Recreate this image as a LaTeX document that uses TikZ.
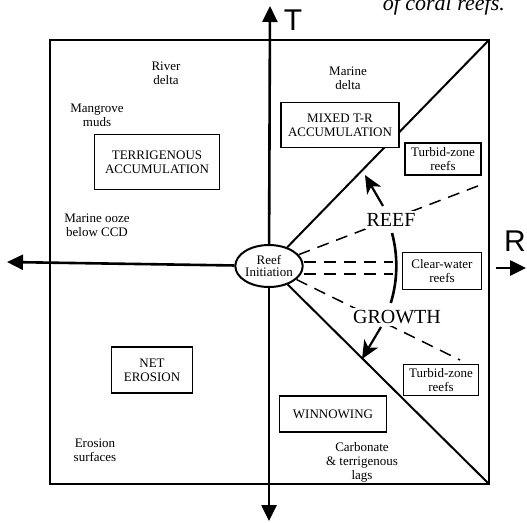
\documentclass[tikz,border=0pt]{standalone}
\usepackage{fontspec}
\setmainfont{Liberation Serif}
\newfontfamily\axisfont{Liberation Sans}
\usetikzlibrary{shapes.geometric,arrows.meta}
\begin{document}
\begin{tikzpicture}[x=1pt,y=-1pt,
  every node/.style={font=\fontsize{13}{14}\selectfont, align=center, inner sep=1pt},
  frame/.style={line width=2.6pt},
  axis/.style={line width=2.6pt,-{Triangle[length=16pt,width=15pt]}},
  diag/.style={line width=2pt},
  dashline/.style={line width=1.5pt, dash pattern=on 12pt off 8pt},
  labelbox/.style={draw, line width=1.4pt, inner sep=2pt},
  bigword/.style={font=\fontsize{20}{22}\selectfont, fill=white, inner sep=2pt},
  growarrow/.style={line width=2.2pt,-{Stealth[length=18pt,width=16pt,inset=5pt]}},
  arcline/.style={line width=2.6pt},
  axislabel/.style={font=\axisfont\fontsize{30}{30}\selectfont, inner sep=0pt},
  captext/.style={font=\fontsize{22}{22}\selectfont\itshape, inner sep=0pt}
]
\useasboundingbox (0,0) rectangle (527,522);

% caption fragment (cut by the top edge, as in the reference)
\node[captext, anchor=base east] (cap) at (505,10) {of coral reefs.};

% frame corners
\coordinate (tl) at (50,40);
\coordinate (tr) at (489,40);
\coordinate (br) at (489,484);
\coordinate (bl) at (50,484);
\draw[frame] (tl) -- (tr) -- (br) -- (bl) -- cycle;

% reef initiation
\node[ellipse, draw, line width=2pt, fill=white, minimum width=64pt, minimum height=42pt, inner sep=0pt] (init) at (269,266) {Reef\\[-2pt]Initiation};

% axes
\coordinate (ttop) at (270,6);
\coordinate (tbot) at (269,521);
\coordinate (rleft) at (7,262);
\coordinate (rs) at (496,268);
\coordinate (re) at (526,268);
\draw[axis] (init) -- (ttop);
\draw[axis] (init) -- (tbot);
\draw[axis] (init) -- (rleft);
\draw[axis] (rs) -- (re);
\node[axislabel] (tlab) at (293,20) {T};
\node[axislabel] (rlab) at (515,241) {R};

% diagonals
\draw[diag] (init) -- (tr);
\draw[diag] (init) -- (br);

% dashed growth lines
\coordinate (d1) at (483,184);
\coordinate (h1) at (393,262);
\coordinate (h2) at (393,274);
\coordinate (d3) at (460,360);
\draw[dashline] (init) -- (d1);
\draw[dashline] (init.east |- h1) -- (h1);
\draw[dashline] (init.east |- h2) -- (h2);
\draw[dashline] (init) -- (d3);

% arc
\coordinate (a1) at (392,233);
\draw[arcline] (a1) arc[start angle=15, end angle=-17, radius=127pt];

% REEF / GROWTH
\node[bigword] (reef) at (391,220) {REEF};
\node[bigword] (growth) at (397,317) {GROWTH};
\coordinate (ra1) at (383,206);
\coordinate (ra2) at (365,175);
\draw[growarrow] (ra1) -- (ra2);
\coordinate (ga1) at (381,327);
\coordinate (ga2) at (362,359);
\draw[growarrow] (ga1) -- (ga2);

% boxes
\node[labelbox, minimum width=125pt, minimum height=55pt] (terr) at (157,162) {TERRIGENOUS\\ACCUMULATION};
\node[labelbox, minimum width=118pt, minimum height=45pt, fill=white] (mixed) at (340,125) {MIXED T-R\\ACCUMULATION};
\node[labelbox, minimum width=76pt, minimum height=32pt] (turb1) at (443,159) {Turbid-zone\\reefs};
\node[labelbox, minimum width=79pt, minimum height=37pt] (clear) at (442,271) {Clear-water\\reefs};
\node[labelbox, minimum width=75pt, minimum height=31pt] (turb2) at (441,380) {Turbid-zone\\reefs};
\node[labelbox, minimum width=107pt, minimum height=36pt] (winn) at (333,414) {WINNOWING};
\node[labelbox, minimum width=81pt, minimum height=46pt] (neter) at (152,370) {NET\\EROSION};

% plain labels
\node (river) at (166,73) {River\\delta};
\node (mang) at (97,115) {Mangrove\\muds};
\node (ooze) at (97,225) {Marine ooze\\below CCD};
\node (mdelta) at (348,78) {Marine\\delta};
\node (erosurf) at (95,450) {Erosion\\surfaces};
\node (carb) at (362,462) {Carbonate\\\& terrigenous\\lags};
\end{tikzpicture}
\end{document}
